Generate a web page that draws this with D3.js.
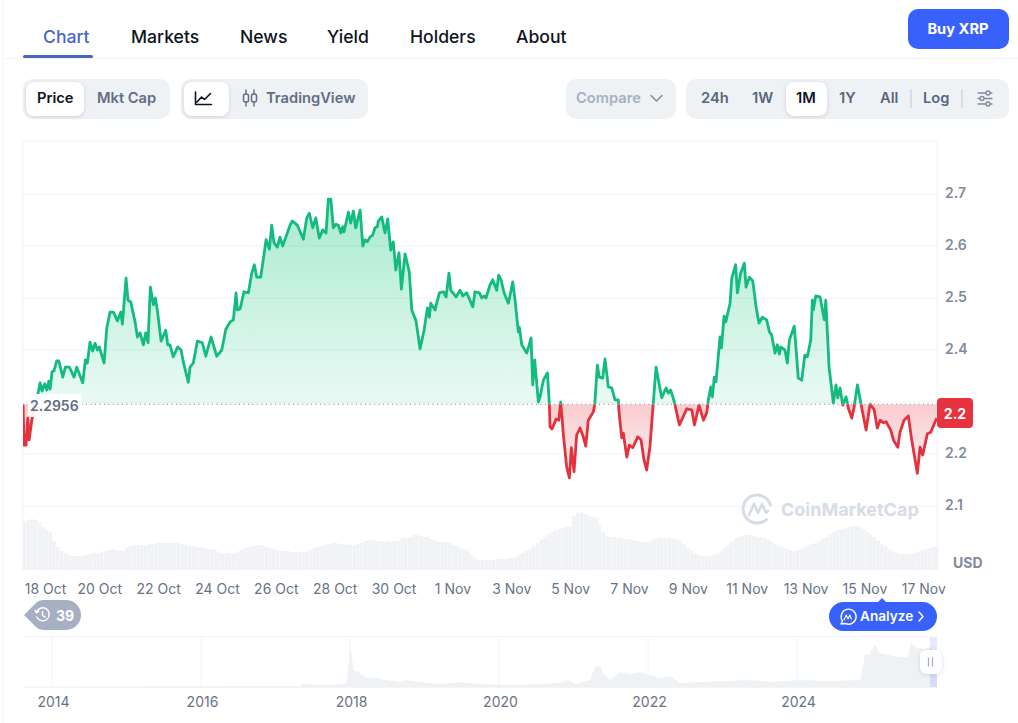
<!DOCTYPE html>
<html><head><meta charset="utf-8">
<script src="https://cdn.jsdelivr.net/npm/d3@7"></script>
<style>
html,body{margin:0;padding:0;background:#fff;overflow:hidden}
svg{display:block;font-family:Inter,"Noto Sans",sans-serif}
.axis path{display:none}
.axis line{stroke:#f2f3f5}
.axis text{font-family:Inter,"Noto Sans",sans-serif}
</style></head><body><svg id="c" width="1018" height="723"></svg>
<script>
// hours after 18 Oct 00:00 UTC
const priceHours=[-14.3,-13.4,-11.8,-10.4,-9.3,-7.1,-4.4,-1.6,-0.3,1.3,3.5,5.2,6.8,7.9,9.5,11.1,13.3,15.0,18.3,20.4,23.7,27.5,29.7,34.6,36.8,38.4,40.6,42.8,44.7,46.6,48.2,52.1,54.3,57.0,59.7,63.0,65.8,67.1,70.1,71.7,74.0,77.5,79.4,81.6,84.3,86.2,88.1,90.0,92.5,94.1,95.7,98.8,102.6,104.3,106.1,108.8,112.4,115.2,117.0,121.1,122.5,125.2,128.5,132.6,135.4,139.7,144.4,148.5,151.8,155.3,158.0,160.2,161.3,163.5,166.7,170.3,173.1,175.2,177.1,180.4,184.8,187.5,189.4,191.3,194.0,196.2,198.4,204.4,206.3,210.4,215.3,218.1,220.2,223.0,225.5,228.4,231.2,233.9,235.8,237.8,239.9,242.1,244.0,246.0,247.6,248.6,252.2,254.1,256.3,258.2,261.8,264.0,265.9,267.7,269.9,272.1,274.0,275.9,276.7,279.5,282.2,284.4,286.9,289.0,291.0,293.7,295.6,298.6,302.1,304.1,307.6,310.9,314.2,316.9,318.5,319.7,323.2,326.7,330.0,332.2,334.6,336.0,340.4,343.6,345.9,349.1,354.1,355.9,359.5,361.4,363.3,364.9,368.2,370.4,373.7,375.3,377.2,379.7,383.2,385.2,386.8,388.7,391.4,392.2,394.2,398.3,401.8,403.2,404.8,407.8,409.2,411.9,415.2,416.8,417.4,419.0,422.3,424.5,426.1,428.3,431.0,433.2,434.8,437.0,439.2,441.9,444.6,446.6,448.7,452.8,454.0,456.1,457.7,460.5,462.4,465.1,467.9,470.6,473.3,473.7,476.1,477.4,480.2,482.3,485.1,489.2,491.9,494.3,496.5,499.2,501.5,504.2,508.8,512.4,514.3,516.2,519.2,523.3,529.4,533.4,535.6,539.4,543.0,545.7,547.0,549.0,550.3,551.9,553.3,556.6,557.7,559.9,561.3,564.8,566.2,569.4,570.8,573.5,576.5,577.9,580.6,583.4,586.1,588.5,591.2,594.8,597.0,598.9,601.6,603.5,605.2,606.3,609.8,611.7,613.4,617.4,620.7,623.5,626.0,628.1,630.9,632.2,633.0,635.0,638.5,642.0,643.2,645.9,649.4,651.6,653.0,654.9,657.1,659.8,661.7,664.5,666.4,669.1,671.9,673.5,676.2,679.5,682.8,685.4,687.7,690.3,692.6,696.4,698.6,702.2,704.0,707.3,710.8,713.6,718.2,720.4,722.6,726.4,729.2,734.1];
const priceValues=[2.296,2.217,2.217,2.269,2.227,2.265,2.294,2.321,2.337,2.321,2.335,2.323,2.340,2.325,2.358,2.360,2.379,2.379,2.348,2.367,2.367,2.348,2.367,2.337,2.381,2.375,2.415,2.398,2.413,2.400,2.406,2.375,2.442,2.473,2.473,2.456,2.473,2.450,2.538,2.496,2.492,2.454,2.425,2.433,2.410,2.433,2.414,2.521,2.487,2.500,2.477,2.417,2.438,2.410,2.410,2.387,2.406,2.400,2.377,2.338,2.367,2.375,2.417,2.414,2.388,2.425,2.388,2.400,2.440,2.454,2.458,2.510,2.477,2.479,2.512,2.510,2.548,2.564,2.540,2.540,2.612,2.594,2.640,2.606,2.598,2.617,2.600,2.640,2.648,2.640,2.613,2.654,2.663,2.635,2.654,2.615,2.631,2.625,2.690,2.690,2.635,2.642,2.640,2.625,2.637,2.627,2.665,2.644,2.667,2.635,2.669,2.600,2.612,2.608,2.617,2.621,2.635,2.637,2.648,2.656,2.625,2.652,2.592,2.608,2.554,2.587,2.517,2.585,2.550,2.477,2.456,2.402,2.438,2.481,2.463,2.490,2.477,2.510,2.512,2.502,2.548,2.515,2.502,2.515,2.504,2.510,2.483,2.512,2.510,2.500,2.504,2.500,2.525,2.535,2.515,2.544,2.535,2.510,2.490,2.512,2.531,2.496,2.435,2.444,2.410,2.394,2.423,2.333,2.381,2.300,2.310,2.342,2.356,2.296,2.252,2.248,2.267,2.265,2.300,2.237,2.175,2.154,2.212,2.166,2.237,2.250,2.233,2.215,2.265,2.281,2.296,2.371,2.348,2.346,2.383,2.329,2.327,2.304,2.304,2.285,2.231,2.240,2.194,2.217,2.212,2.233,2.227,2.189,2.169,2.214,2.285,2.367,2.308,2.327,2.317,2.323,2.300,2.256,2.287,2.285,2.256,2.294,2.265,2.279,2.304,2.329,2.310,2.348,2.339,2.425,2.404,2.465,2.454,2.490,2.538,2.564,2.510,2.548,2.567,2.521,2.540,2.533,2.483,2.452,2.463,2.458,2.435,2.429,2.394,2.410,2.392,2.406,2.400,2.375,2.419,2.446,2.346,2.342,2.390,2.387,2.419,2.496,2.477,2.504,2.502,2.458,2.496,2.367,2.298,2.333,2.308,2.327,2.294,2.310,2.288,2.269,2.290,2.333,2.298,2.279,2.246,2.296,2.285,2.250,2.265,2.260,2.262,2.246,2.227,2.213,2.242,2.265,2.273,2.227,2.163,2.213,2.198,2.239,2.242,2.269];
const baselinePrice=2.2956;
// 3-hourly volume, in arbitrary units
const volumes=[49,50,51,50,47,43,40,38,29,23,19,17,15,14,14,14,14,15,16,17,17,18,19,20,21,
20,19,19,22,24,25,25,25,25,26,26,27,27,27,27,27,27,27,26,25,24,24,23,23,22,
21,21,20,18,17,17,17,17,18,20,22,23,24,25,25,25,23,22,21,20,19,19,19,18,18,
18,18,18,20,22,23,24,25,26,27,27,26,26,25,25,25,26,27,29,30,30,29,29,28,29,
28,29,29,32,32,33,35,35,34,33,33,31,29,28,28,28,27,25,24,22,21,19,15,12,10,
10,10,10,10,11,11,11,12,12,13,15,17,19,21,24,27,30,33,36,38,40,41,42,43,44,
54,57,58,56,54,53,52,45,38,34,33,33,32,32,31,31,30,29,29,28,28,29,31,32,32,
32,32,32,31,29,26,22,19,17,15,14,14,14,15,16,19,22,25,28,31,33,34,35,35,34,
33,33,32,30,28,26,24,23,21,20,19,20,21,23,25,26,27,29,31,33,36,38,40,41,42,
43,44,44,43,41,38,36,33,29,26,24,21,19,17,16,16,16,16,17,18,20,21,22,23,24];
const priceTicks=[2.1,2.2,2.3,2.4,2.5,2.6,2.7];
const priceLabels=["2.1","2.2","","2.4","2.5","2.6","2.7"];
const dateTickDays=[0,2,4,6,8,10,12,14,16,18,20,22,24,26,28,30];
const navYears=[2013.61,2017.33,2017.37,2017.60,2017.93,2017.96,2017.97,2018.01,2018.05,2018.13,2018.20,2018.27,2018.31,2018.47,2018.67,2018.74,2018.94,2019.21,2019.48,2019.74,2020.15,2020.55,2020.82,2020.89,2020.93,2021.02,2021.22,2021.29,2021.36,2021.40,2021.49,2021.62,2021.76,2021.89,2022.03,2022.16,2022.30,2022.43,2022.70,2023.37,2023.70,2024.04,2024.44,2024.85,2024.91,2024.97,2025.05,2025.11,2025.18,2025.38,2025.49,2025.53,2025.58,2025.72,2025.78,2025.88];
const navVolumes=[0.4,1,3,2,3,4,17,39,17,14,10,9,10,7,5,7,5,3,5,3,2,3,4,6,7,3,7,20,21,14,7,15,13,15,12,9,11,4,5,7,5,7,6,7,32,33,42,34,33,30,30,45,40,38,40,32];
const navTicks=[2014,2016,2018,2020,2022,2024];
const tabs=["Chart","Markets","News","Yield","Holders","About"];

const PL=23,PR=937;
const svg=d3.select("#c");
const defs=svg.append("defs");
const xP=d3.scaleLinear().domain([-14.3,734.3]).range([PL,PR]);
const day0=Date.UTC(2025,9,18), dayMs=864e5;
const pxPerDay=29.43, tick0=40.4;
const xD=d3.scaleUtc().domain([new Date(day0+(PL-tick0)/pxPerDay*dayMs),new Date(day0+(PR-tick0)/pxPerDay*dayMs)]).range([PL,PR]);
const yP=d3.scaleLinear().domain([2.1,2.7]).range([506,194]);
const yV=d3.scaleLinear().domain([0,60]).range([570,510]);
const xN=d3.scaleLinear().domain([2013.611,2025.879]).range([PL,PR]);
const yN=d3.scaleLinear().domain([0,50]).range([687,637]);
const yBase=yP(baselinePrice);

function txt(x,y,s,o={}){return svg.append("text").attr("x",x).attr("y",y).text(s)
 .attr("font-size",o.size||14.7).attr("font-weight",o.weight||600).attr("fill",o.fill||"#616e85")
 .attr("text-anchor",o.anchor||"start").attr("letter-spacing",o.ls||null);}
function box(x,y,w,h,r,fill,shadow){const b=svg.append("rect").attr("x",x).attr("y",y).attr("width",w).attr("height",h).attr("rx",r).attr("fill",fill);
 if(shadow)b.style("filter","drop-shadow(0 1px 2px rgba(88,102,126,.22))");return b;}
function ic(d,c,w){return svg.append("path").attr("d",d).attr("fill","none").attr("stroke",c).attr("stroke-width",w||1.5).attr("stroke-linecap","round").attr("stroke-linejoin","round");}

// page frame & tabs
svg.append("line").attr("x1",3).attr("x2",3).attr("y1",0).attr("y2",723).attr("stroke","#f5f6f8");
svg.append("line").attr("x1",4).attr("x2",1018).attr("y1",58.5).attr("y2",58.5).attr("stroke","#f1f3f6");
const tabX=[43,131,240,327,410,516];
tabs.forEach((t,i)=>txt(tabX[i],43,t,{size:17.6,weight:500,fill:i?"#0d1421":"#4a66c4"}));
box(23,55,70,3,1.5,"#4766c4");
box(908,9,101,40,10,"#3861fb");
txt(958,34,"Buy XRP",{size:14.7,weight:700,fill:"#fff",anchor:"middle"});

// control groups
box(23,79,147,40,10,"#eff2f5");
box(26,82,58,34,8,"#fff",true);
txt(37,103,"Price",{fill:"#0d1421"}); txt(97,103,"Mkt Cap");
box(181,79,187,40,10,"#eff2f5");
box(184,82,45,34,8,"#fff",true);
ic("M195.5 92v12.5h16M197 102l4.5-5 3 2.5 6-6","#0d1421",1.6);
ic("M246 90v4M246 102v4M254 90v4M254 102v4","#616e85",1.4);
svg.append("rect").attr("x",243.5).attr("y",94).attr("width",5).attr("height",8).attr("rx",2).attr("fill","none").attr("stroke","#616e85").attr("stroke-width",1.5);
svg.append("rect").attr("x",251.5).attr("y",94).attr("width",5).attr("height",8).attr("rx",2).attr("fill","none").attr("stroke","#616e85").attr("stroke-width",1.5);
txt(266,103,"TradingView");
box(566,79,110,40,10,"#eff2f5");
txt(576,103,"Compare",{fill:"#a6b0c3"});
ic("M651 95.5l5.5 5.5 5.5-5.5","#808a9d",1.5);
box(686,79,323,40,10,"#eff2f5");
box(786,82,41,34,8,"#fff",true);
[["24h",701],["1W",752],["1M",796],["1Y",839],["All",880],["Log",923]].forEach(([s,x])=>txt(x,103,s,{fill:s==="1M"?"#0d1421":"#58667e"}));
[911,962].forEach(x=>svg.append("line").attr("x1",x).attr("x2",x).attr("y1",89).attr("y2",108).attr("stroke","#cfd6e4").attr("stroke-width",1.5));
ic("M978 93h14M978 98.5h14M978 104h14","#808a9d",1.3);
[[988,93],[982,98.5],[988,104]].forEach(([x,y])=>svg.append("circle").attr("cx",x).attr("cy",y).attr("r",2).attr("fill","#eff2f5").attr("stroke","#808a9d").attr("stroke-width",1.3));

// chart frame and grid
svg.append("g").attr("stroke","#f2f3f5").call(g=>{
 g.append("line").attr("x1",PL).attr("x2",PR).attr("y1",141).attr("y2",141);
 g.append("line").attr("x1",PL).attr("x2",PL).attr("y1",141).attr("y2",570);
 g.append("line").attr("x1",PR).attr("x2",PR).attr("y1",141).attr("y2",570);
});
const yAxis=d3.axisRight(yP).tickValues(priceTicks).tickFormat((d,i)=>priceLabels[i]).tickSize(0).tickPadding(8);
const gy=svg.append("g").attr("class","axis").attr("transform",`translate(${PR},0)`);
gy.selectAll(".gl").data(priceTicks).enter().append("line").attr("x1",PL-PR).attr("x2",0).attr("y1",d=>yP(d)).attr("y2",d=>yP(d));
gy.call(yAxis);
gy.selectAll("text").attr("font-size",14).attr("font-weight",600).attr("fill","#808a9d").attr("dy","0.27em");

// volume bars
svg.append("g").attr("fill","#f0f2f5").selectAll("rect").data(volumes).enter().append("rect")
 .attr("x",(d,i)=>xP(-14.3+3*i)).attr("width",3.4).attr("y",d=>yV(d)).attr("height",d=>yV(0)-yV(d));

// watermark
const wm="#d6dce5";
svg.append("path").attr("d","M770.5 505a14 14 0 1 0-4 14.5").attr("fill","none").attr("stroke",wm).attr("stroke-width",3).attr("stroke-linecap","round");
ic("M749 515l5-11 4 9 4-9 4 9 2-2",wm,2.6);
txt(781,516,"CoinMarketCap",{size:18,weight:700,fill:wm});

// gradients + clip regions
const gG=defs.append("linearGradient").attr("id","gG").attr("gradientUnits","userSpaceOnUse").attr("x1",0).attr("x2",0).attr("y1",yP(2.7)).attr("y2",yBase);
gG.append("stop").attr("offset",0).attr("stop-color","#16c784").attr("stop-opacity",.38);
gG.append("stop").attr("offset",1).attr("stop-color","#16c784").attr("stop-opacity",.09);
const gR=defs.append("linearGradient").attr("id","gR").attr("gradientUnits","userSpaceOnUse").attr("x1",0).attr("x2",0).attr("y1",yBase).attr("y2",yP(2.15));
gR.append("stop").attr("offset",0).attr("stop-color","#ea3943").attr("stop-opacity",.26);
gR.append("stop").attr("offset",1).attr("stop-color","#ea3943").attr("stop-opacity",.06);
defs.append("clipPath").attr("id","up").append("rect").attr("x",PL).attr("y",141).attr("width",PR-PL).attr("height",yBase-141);
defs.append("clipPath").attr("id","dn").append("rect").attr("x",PL).attr("y",yBase).attr("width",PR-PL).attr("height",570-yBase);

const pts=priceHours.map((h,i)=>[h,priceValues[i]]);
const area=d3.area().x(d=>xP(d[0])).y0(yBase).y1(d=>yP(d[1]));
const line=d3.line().x(d=>xP(d[0])).y(d=>yP(d[1]));
[["up","url(#gG)","#14bb7e"],["dn","url(#gR)","#e2323e"]].forEach(([c,f,s])=>{
 const g=svg.append("g").attr("clip-path",`url(#${c})`);
 g.append("path").attr("d",area(pts)).attr("fill",f);
 g.append("path").attr("d",line(pts)).attr("fill","none").attr("stroke",s).attr("stroke-width",2.8).attr("stroke-linejoin","round");
});

// baseline
svg.append("line").attr("x1",PL).attr("x2",PR).attr("y1",yBase).attr("y2",yBase).attr("stroke","#98a0b3").attr("stroke-width",1.2).attr("stroke-dasharray","1 3.5");
box(28,394,54,23,4,"#fff").attr("opacity",.92);
txt(30,411,d3.format(".4f")(baselinePrice),{size:14,weight:600,fill:"#616e85"});

// current price tag
box(937,398,36,30,4,"#e6333f");
txt(955,419,"2.2",{size:14,weight:700,fill:"#fff",anchor:"middle"});
txt(953,568,"USD",{size:14,weight:700,fill:"#808a9d"});

// date axis
const xAxis=d3.axisBottom(xD).tickValues(dateTickDays.map(d=>new Date(day0+d*dayMs))).tickFormat(d3.utcFormat("%-d %b")).tickSize(0).tickPadding(0);
const gx=svg.append("g").attr("class","axis").attr("transform","translate(0,584)").call(xAxis);
gx.selectAll("text").attr("font-size",14).attr("font-weight",400).attr("fill","#677386");
gx.selectAll("text").filter((d,i)=>i===0).attr("dx",4.6);

// history chip
svg.append("path").attr("d","M24 615L36 603Q39 600 43 600H66A15 15 0 0 1 66 630H43Q39 630 36 627Z").attr("fill","#a6b0c3");
ic("M36.5 612.5a6.5 6.5 0 1 1 .3 4.5M42.5 611.5v4l2.8 1.6M35 610.5l1.5 2.3 2.3-1.5","#fff",1.4);
txt(56,620.5,"39",{size:14,weight:700,fill:"#fff"});

// analyze pill
svg.append("path").attr("d","M843.5 602H878L882 598L886 602H922.5A14.5 14.5 0 0 1 922.5 631H843.5A14.5 14.5 0 0 1 843.5 602Z").attr("fill","#3861fb");
ic("M841 624l1.5-3a7.5 7.5 0 1 1 3 2.5Z","#fff",1.4);
ic("M844 620l2.2-5 1.8 4 1.8-4 1.6 4","#fff",1.1);
txt(860,621,"Analyze",{size:13.6,weight:600,fill:"#fff"});
ic("M919 612l4 4.5-4 4.5","#fff",1.4);

// navigator
svg.append("g").attr("stroke","#f3f4f6").call(g=>{
 g.append("line").attr("x1",PL).attr("x2",PR).attr("y1",636.5).attr("y2",636.5);
 g.append("line").attr("x1",PL).attr("x2",PR).attr("y1",687.5).attr("y2",687.5);
 g.selectAll(".v").data(navTicks).enter().append("line").attr("x1",d=>xN(d)).attr("x2",d=>xN(d)).attr("y1",637).attr("y2",687);
});
svg.append("path").datum(navYears.map((y,i)=>[y,navVolumes[i]])).attr("fill","#eff2f5")
 .attr("d",d3.area().x(d=>xN(d[0])).y0(yN(0)).y1(d=>yN(d[1])));
svg.append("rect").attr("x",930).attr("y",637).attr("width",7).attr("height",50).attr("fill","#3861fb").attr("opacity",.14);
const gn=svg.append("g").attr("class","axis").attr("transform","translate(1,697)").call(d3.axisBottom(xN).tickValues(navTicks).tickFormat(d3.format("d")).tickSize(0).tickPadding(0));
gn.selectAll("text").attr("font-size",14).attr("font-weight",400).attr("fill","#677386");
box(920,650,22,24,6,"#fff",true);
ic("M928.5 658v8M932.5 658v8","#a6b0c3",1.3);
</script></body></html>
